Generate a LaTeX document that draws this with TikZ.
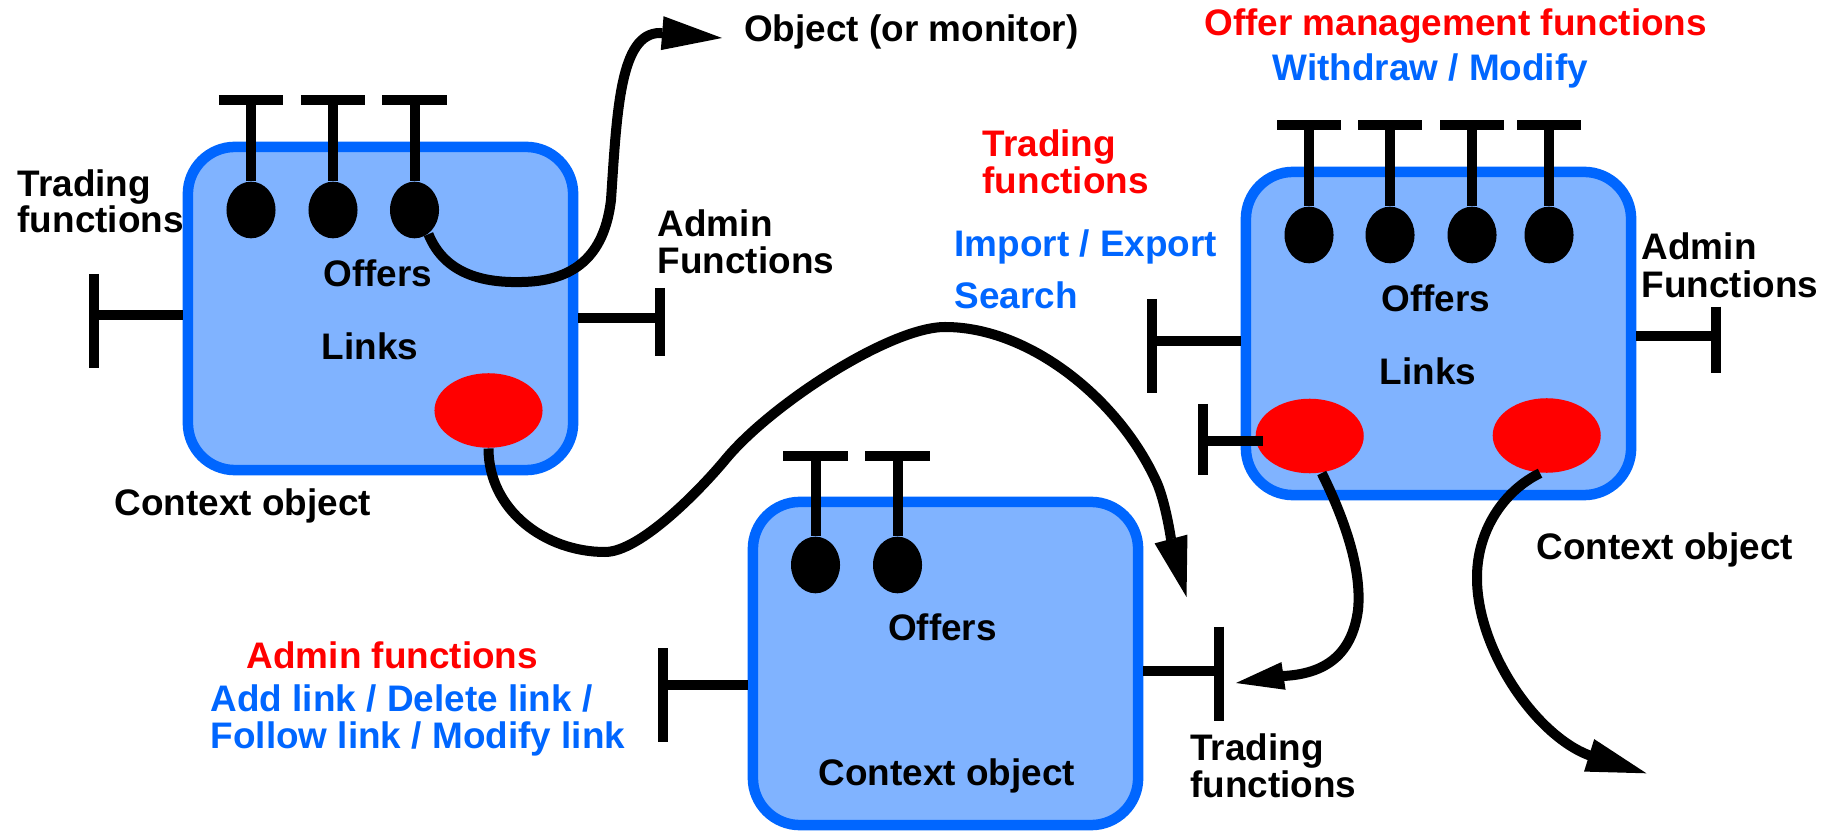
\documentclass[tikz,border=0pt]{standalone}
\usepackage{fontspec}
\setmainfont{Liberation Sans}
\usetikzlibrary{shapes.geometric,arrows.meta,calc}
\definecolor{boxfill}{RGB}{128,179,255}
\definecolor{boxline}{RGB}{0,102,255}
\definecolor{txtblue}{RGB}{0,102,255}
\definecolor{txtred}{RGB}{255,0,0}
\newcommand{\lblfont}{\fontsize{10.5pt}{12pt}\selectfont\bfseries}
\tikzset{
  ctxbox/.style={rectangle, rounded corners=0.47cm, draw=boxline, fill=boxfill, line width=0.105cm, minimum width=3.85cm, minimum height=3.23cm, inner sep=0},
  offer/.style={ellipse, fill=black, minimum width=0.49cm, minimum height=0.566cm, inner sep=0},
  ctxdot/.style={ellipse, fill=txtred, minimum width=1.08cm, minimum height=0.745cm, inner sep=0},
  tline/.style={line width=0.1cm, black},
  conn/.style={line width=0.1cm, black},
  bigtip/.style={-{Triangle[length=0.6cm,width=0.34cm,line width=0pt]}},
  smalltip/.style={-{Triangle[length=0.48cm,width=0.28cm,line width=0pt]}},
  lbl/.style={inner sep=0, anchor=base west, font=\lblfont},
  clbl/.style={inner sep=0, anchor=base, font=\lblfont},
}
\begin{document}
\begin{tikzpicture}[x=0.01cm,y=-0.01cm]
\useasboundingbox (0,0) rectangle (1837,831);

% boxes
\node[ctxbox] (box1) at (380.5,308.5) {};
\node[ctxbox] (box2) at (945.5,663.5) {};
\node[ctxbox] (box3) at (1438.5,333.5) {};

% side T interfaces
\coordinate (t1l) at (94,315.5);
\draw[tline] (t1l) -- (t1l -| box1.west);
\draw[tline] (94,274) -- (94,367.7);
\coordinate (t1r) at (660,318);
\draw[tline] (t1r) -- (t1r -| box1.east);
\draw[tline] (660,288) -- (660,355.7);

\coordinate (t3l) at (1152,341);
\draw[tline] (t3l) -- (t3l -| box3.west);
\draw[tline] (1152,299) -- (1152,392.7);
\coordinate (t3r) at (1716,336);
\draw[tline] (t3r) -- (t3r -| box3.east);
\draw[tline] (1716,306.7) -- (1716,373.3);

\coordinate (t2l) at (663,685);
\draw[tline] (t2l) -- (t2l -| box2.west);
\draw[tline] (663,648) -- (663,741.7);
\coordinate (t2r) at (1219,671);
\draw[tline] (t2r) -- (t2r -| box2.east);
\draw[tline] (1219,626.7) -- (1219,720.7);

% red context dots
\node[ctxdot] (r1) at (488.5,410.5) {};
\node[ctxdot] (r31) at (1309.7,436) {};
\node[ctxdot] (r32) at (1546.7,435.5) {};

\coordinate (t3s) at (1202.5,441);
\draw[tline] (t3s) -- ([xshift=0.08cm]t3s -| r31.west);
\draw[tline] (1202.5,404) -- (1202.5,475);

% offers with top T interfaces
\foreach \i/\x in {1/251,2/333,3/414.5} {
  \node[offer] (e1\i) at (\x,210) {};
  \coordinate (b1\i) at (\x,100.5);
  \draw[tline] ([xshift=-0.32cm]b1\i) -- ([xshift=0.32cm]b1\i);
  \draw[tline] (b1\i) -- (e1\i.north);
}
\foreach \i/\x in {1/815.5,2/897.5} {
  \node[offer] (e2\i) at (\x,565) {};
  \coordinate (b2\i) at (\x,456);
  \draw[tline] ([xshift=-0.32cm]b2\i) -- ([xshift=0.32cm]b2\i);
  \draw[tline] (b2\i) -- (e2\i.north);
}
\foreach \i/\x in {1/1309,2/1390,3/1472,4/1549} {
  \node[offer] (e3\i) at (\x,235) {};
  \coordinate (b3\i) at (\x,125.3);
  \draw[tline] ([xshift=-0.32cm]b3\i) -- ([xshift=0.32cm]b3\i);
  \draw[tline] (b3\i) -- (e3\i.north);
}

% connectors
\coordinate (objtip) at (722,38);
\draw[conn,bigtip] (e13.-60) .. controls (445,275) and (485,283) .. (522,282)
  .. controls (580,281) and (605,250) .. (611,200)
  .. controls (617,110) and (620,33) .. (660,33) -- (objtip);

\coordinate (tip2) at (1186.5,597);
\draw[conn,bigtip] (r1.south) .. controls (488.5,510) and (545,552) .. (605,552)
  .. controls (640,552) and (700,490) .. (725,460)
  .. controls (770,405) and (890,327) .. (945,327)
  .. controls (1030,327) and (1120,400) .. (1157,483)
  .. controls (1163,497) and (1168,520) .. (1171,539) -- (tip2);

\coordinate (tip3) at (1236,683);
\draw[conn,smalltip] (r31.-72) .. controls (1345,520) and (1362,570) .. (1358,610)
  .. controls (1352,655) and (1325,674) .. (1283,676) -- (tip3);

\coordinate (tip4) at (1646.4,773.3);
\draw[conn,bigtip] (r32.-100) .. controls (1505,490) and (1476,530) .. (1477,580)
  .. controls (1478,650) and (1535,735) .. (1589.6,755.5) -- (tip4);

% labels
\node[lbl] (lt1) at (17,196.7) {Trading};
\node[lbl] (lt2) at (17,233) {functions};
\node[clbl] (of1) at (378,286.7) {Offers};
\node[clbl] (lk1) at (370,359.3) {Links};
\node[lbl] (ad1) at (657,237) {Admin};
\node[lbl] (ad1b) at (657,274) {Functions};
\node[lbl] (cx1) at (113.8,515) {Context object};
\node[lbl] (obj) at (743.4,41.7) {Object (or monitor)};
\node[lbl,text=txtred] (omf) at (1203.6,36) {Offer management functions};
\node[lbl,text=txtblue] (wm) at (1271.8,81) {Withdraw / Modify};
\node[lbl,text=txtred] (tf1) at (981.9,156.7) {Trading};
\node[lbl,text=txtred] (tf2) at (981.9,194) {functions};
\node[lbl,text=txtblue] (ie) at (953.8,257) {Import / Export};
\node[lbl,text=txtblue] (se) at (953.8,309) {Search};
\node[clbl] (of3) at (1436,311.7) {Offers};
\node[clbl] (lk3) at (1428,385) {Links};
\node[lbl] (ad3) at (1641,260) {Admin};
\node[lbl] (ad3b) at (1641,297.7) {Functions};
\node[lbl] (cx3) at (1536,560) {Context object};
\node[lbl] (tr2a) at (1189.6,760) {Trading};
\node[lbl] (tr2b) at (1189.6,797.3) {functions};
\node[clbl] (of2) at (942.5,640.7) {Offers};
\node[clbl] (cx2) at (946.8,785) {Context object};
\node[lbl,text=txtred] (adf) at (246,668.3) {Admin functions};
\node[lbl,text=txtblue] (al1) at (210,711.7) {Add link / Delete link /};
\node[lbl,text=txtblue] (al2) at (210,748.3) {Follow link / Modify link};
\end{tikzpicture}
\end{document}
